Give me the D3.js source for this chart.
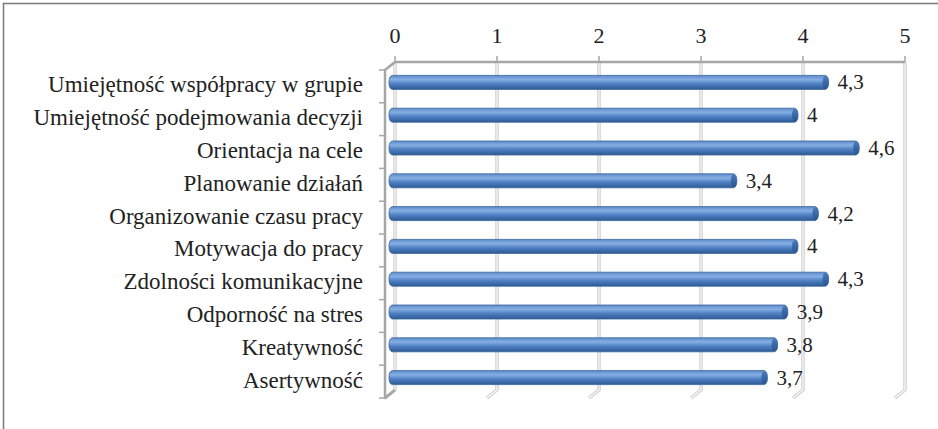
<!DOCTYPE html>
<html>
<head>
<meta charset="utf-8">
<script src="https://cdn.jsdelivr.net/npm/d3@7"></script>
<style>
  .lbl { font-family: "Liberation Serif", "Times New Roman" !important; }
</style>
</head>
<body style="margin:0">
<svg id="skills" width="938" height="429"></svg>
<script>
// Competence ratings (mean score, 0–5 scale)
const categories = [
  "Umiejętność współpracy w grupie",
  "Umiejętność podejmowania decyzji",
  "Orientacja na cele",
  "Planowanie działań",
  "Organizowanie czasu pracy",
  "Motywacja do pracy",
  "Zdolności komunikacyjne",
  "Odporność na stres",
  "Kreatywność",
  "Asertywność"
];
const values = [4.3, 4, 4.6, 3.4, 4.2, 4, 4.3, 3.9, 3.8, 3.7];
const valueLabels = ["4,3", "4", "4,6", "3,4", "4,2", "4", "4,3", "3,9", "3,8", "3,7"];
const tickValues = [0, 1, 2, 3, 4, 5];

const svg = d3.select("#skills");
const textColor = "#222";
const fontStack = "'Liberation Serif', 'Times New Roman'";

// outer frame
svg.append("rect")
  .attr("x", 3.5).attr("y", 3.5).attr("width", 940).attr("height", 440)
  .attr("fill", "none").attr("stroke", "#7a7a7a").attr("stroke-width", 1.5);

// 3D layout: back wall and front plane offsets
const depthX = 10, depthY = -8;
const wallTop = 62, wallBottom = 390;
const x = d3.scaleLinear().domain([0, 5]).range([395, 905]);
const y = d3.scaleBand().domain(categories).range([wallTop - depthY, wallBottom - depthY]);

const defs = svg.append("defs");
const grad = defs.append("linearGradient")
  .attr("id", "cyl").attr("x1", 0).attr("y1", 0).attr("x2", 0).attr("y2", 1);
grad.append("stop").attr("offset", "0%").attr("stop-color", "#5d8ccc");
grad.append("stop").attr("offset", "30%").attr("stop-color", "#86aee2");
grad.append("stop").attr("offset", "60%").attr("stop-color", "#4f80c4");
grad.append("stop").attr("offset", "100%").attr("stop-color", "#2d5a94");

const capGrad = defs.append("linearGradient")
  .attr("id", "cap").attr("x1", 0).attr("y1", 0).attr("x2", 0).attr("y2", 1);
capGrad.append("stop").attr("offset", "0%").attr("stop-color", "#4a7bbd");
capGrad.append("stop").attr("offset", "100%").attr("stop-color", "#2a5590");

// back-wall gridlines with floor returns
const grid = svg.append("g");
tickValues.forEach(t => {
  const gx = x(t);
  const path = `M${gx},${wallTop} L${gx},${wallBottom} L${gx - depthX},${wallBottom - depthY}`;
  grid.append("path").attr("d", path).attr("fill", "none")
    .attr("stroke", "#cfcfcf").attr("stroke-width", 3.5).attr("stroke-linejoin", "round");
  grid.append("path").attr("d", path).attr("fill", "none")
    .attr("stroke", "#fafafa").attr("stroke-width", 1.2).attr("stroke-linejoin", "round");
});

// top value axis
const topAxis = svg.append("g");
topAxis.append("line")
  .attr("x1", x(0)).attr("x2", x(5)).attr("y1", wallTop).attr("y2", wallTop)
  .attr("stroke", "#a6a6a6").attr("stroke-width", 2.5);
topAxis.selectAll("line.tick").data(tickValues).join("line")
  .attr("class", "tick")
  .attr("x1", d => x(d)).attr("x2", d => x(d))
  .attr("y1", wallTop - 6).attr("y2", wallTop)
  .attr("stroke", "#a6a6a6").attr("stroke-width", 1.5);
topAxis.selectAll("text").data(tickValues).join("text")
  .attr("class", "lbl")
  .attr("x", d => x(d)).attr("y", 43)
  .attr("text-anchor", "middle")
  .style("font-family", fontStack)
  .style("font-size", "22px")
  .attr("fill", textColor)
  .text(d => d);

// category axis on the front plane
const fx = x(0) - depthX;
const catAxis = svg.append("g");
catAxis.append("path")
  .attr("d", `M${x(0)},${wallTop} L${fx},${wallTop - depthY} L${fx},${wallBottom - depthY} L${x(0)},${wallBottom}`)
  .attr("fill", "none").attr("stroke", "#a6a6a6").attr("stroke-width", 2.5).attr("stroke-linejoin", "round");
const bounds = categories.map(c => y(c)).concat([y.range()[1]]);
catAxis.selectAll("line.tick").data(bounds).join("line")
  .attr("class", "tick")
  .attr("x1", fx - 6).attr("x2", fx)
  .attr("y1", d => d).attr("y2", d => d)
  .attr("stroke", "#a6a6a6").attr("stroke-width", 1.5);
catAxis.selectAll("text").data(categories).join("text")
  .attr("class", "lbl")
  .attr("x", 363)
  .attr("y", d => y(d) + y.bandwidth() / 2 + 6)
  .attr("text-anchor", "end")
  .style("font-family", fontStack)
  .style("font-size", "23px")
  .attr("fill", textColor)
  .text(d => d);

// cylinder bars at mid depth
const barH = 14;
const bx = v => x(v) - depthX / 2;
const by = c => y(c) + y.bandwidth() / 2 + depthY / 2;
const bars = svg.append("g");
categories.forEach((c, i) => {
  const v = values[i];
  const g = bars.append("g");
  g.append("rect")
    .attr("x", bx(0) - 1).attr("y", by(c) - barH / 2)
    .attr("width", bx(v) - bx(0) + 1).attr("height", barH)
    .attr("rx", 3.5).attr("ry", 6)
    .attr("fill", "url(#cyl)")
    .attr("stroke", "#3a659c").attr("stroke-width", 0.8);
  g.append("ellipse")
    .attr("cx", bx(v) - 3).attr("cy", by(c))
    .attr("rx", 3).attr("ry", barH / 2 - 0.5)
    .attr("fill", "url(#cap)");
  g.append("text")
    .attr("class", "lbl")
    .attr("x", bx(v) + 9)
    .attr("y", by(c) + 7)
    .style("font-family", fontStack)
    .style("font-size", "21px")
    .attr("fill", textColor)
    .text(valueLabels[i]);
});
</script>
</body>
</html>
